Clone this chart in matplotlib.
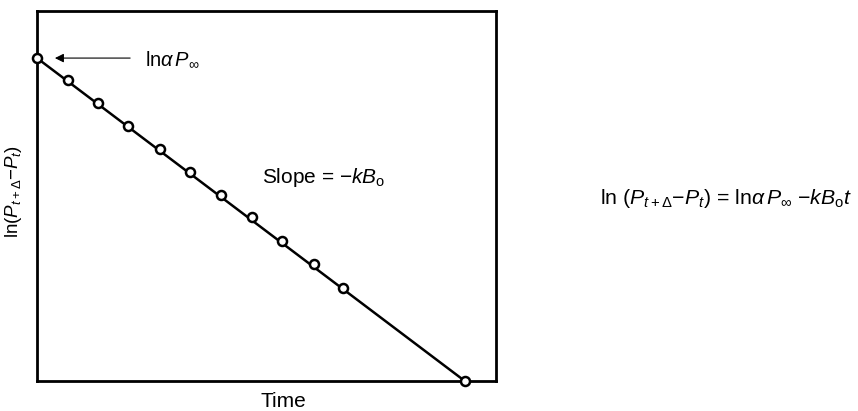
import matplotlib
matplotlib.use("Agg")
import matplotlib.pyplot as plt

plt.rcParams['font.family'] = ['Liberation Sans', 'DejaVu Sans']
plt.rcParams['mathtext.fontset'] = 'custom'
plt.rcParams['mathtext.rm'] = 'Liberation Sans'
plt.rcParams['mathtext.it'] = 'Liberation Sans:italic'
plt.rcParams['mathtext.sf'] = 'Liberation Sans'

# time (fraction of axis) and ln(P_t+d - P_t)
time = [0.0, 0.068, 0.133, 0.198, 0.268, 0.333, 0.401, 0.468, 0.534, 0.603, 0.667, 0.932]
lnval = [0.873, 0.814, 0.751, 0.689, 0.627, 0.565, 0.503, 0.443, 0.378, 0.316, 0.251, 0.0]

fig = plt.figure(figsize=(8.58, 4.11), dpi=100)
ax = fig.add_axes([0.0431, 0.073, 0.535, 0.900])
ax.set_xlim(0, 1)
ax.set_ylim(0, 1)
ax.plot([time[0], time[-1]], [lnval[0], lnval[-1]], color='black', lw=1.8, clip_on=False)
ax.plot(time, lnval, 'o', ms=6.5, mfc='white', mec='black', mew=1.8, clip_on=False, zorder=5)
for s in ax.spines.values():
    s.set_linewidth(2)
ax.set_xticks([])
ax.set_yticks([])

fig.text(0.330, 0.024, 'Time', fontsize=15, ha='center', va='center')
fig.text(0.016, 0.535, r'ln($P_{t+\Delta}$$-$$P_t$)', fontsize=13.5, rotation=90,
         ha='center', va='center')

ax.annotate('', xy=(0.033, lnval[0]), xytext=(0.209, lnval[0]),
            arrowprops=dict(arrowstyle='-|>', color='black', lw=0.8, mutation_scale=13))
ax.text(0.235, 0.868, r'ln$\alpha\,P_\infty$', fontsize=14.5, va='center', ha='left')
ax.text(0.49, 0.549, r'Slope = $-kB_{\rm o}$', fontsize=15, va='center', ha='left')

fig.text(0.699, 0.518, r'ln ($P_{t+\Delta}$$-$$P_t$) = ln$\alpha\,P_\infty$ $-kB_{\rm o}t$',
         fontsize=15.3, va='center', ha='left')

fig.savefig('out.png', dpi=100)
